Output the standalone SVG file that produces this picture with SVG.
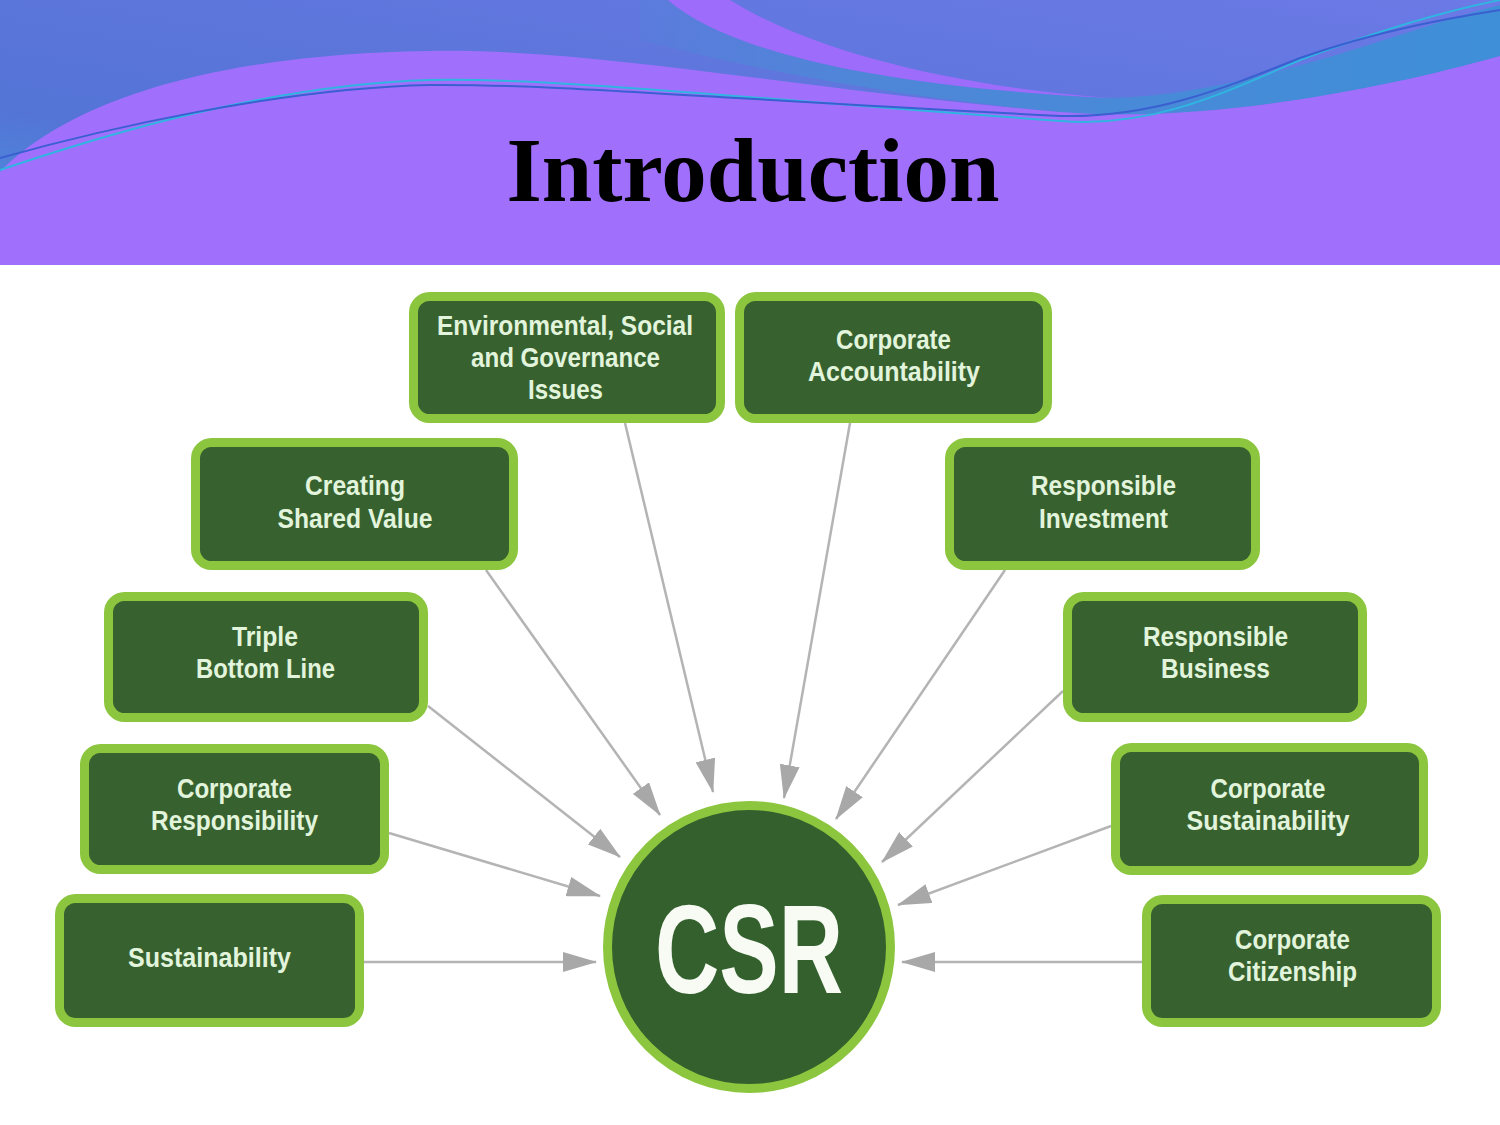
<svg xmlns="http://www.w3.org/2000/svg" width="1500" height="1125" viewBox="0 0 1500 1125">
<style>
.box{fill:#37622f;stroke:#8cc63f;stroke-width:9}
.t{font-family:"Liberation Sans Narrow","Liberation Sans",Arial,sans-serif;font-weight:bold;font-size:27px;fill:#e2f4dc;text-anchor:middle}
.ln{stroke:#b4b4b4;stroke-width:2.5;fill:none;marker-end:url(#ah)}
</style>
<defs>
<linearGradient id="sky" x1="0" y1="1" x2="1" y2="0">
<stop offset="0" stop-color="#4697dd"/>
<stop offset="0.3" stop-color="#5474d6"/>
<stop offset="1" stop-color="#6c79e6"/>
</linearGradient>
<linearGradient id="band" x1="0" y1="0" x2="1" y2="0">
<stop offset="0" stop-color="#4f86d8" stop-opacity="0.3"/>
<stop offset="0.25" stop-color="#4f86d8"/>
<stop offset="1" stop-color="#3f8fd8"/>
</linearGradient>
<marker id="ah" markerUnits="userSpaceOnUse" viewBox="0 0 34 20" markerWidth="34" markerHeight="20" refX="33" refY="10" orient="auto">
<path d="M0,0 L34,10 L0,20 Z" fill="#a8a8a8"/>
</marker>
</defs>
<rect x="0" y="0" width="1500" height="1125" fill="#ffffff"/>
<g id="header">
<rect x="0" y="0" width="1500" height="265" fill="url(#sky)"/>
<path d="M640,0 L668,0 C720,45 850,85 1110,98 C1250,95 1400,30 1500,5 L1500,56 C1380,90 1200,124 1060,112 C850,92 720,60 640,40 Z" fill="url(#band)"/>
<path d="M668,0 C720,45 850,85 1110,98 C950,86 810,50 730,0 Z" fill="#9d6cfb"/>
<path d="M0,172 C40,130 150,55 430,51 C600,48 800,90 1060,112 C1200,124 1380,90 1500,56 L1500,265 L0,265 Z" fill="#a070fd"/>
<path d="M0,170 C60,150 250,85 430,80 C560,78 700,95 1061,121 C1150,128 1220,95 1300,60 C1380,30 1450,10 1500,0" fill="none" stroke="#2fb5e0" stroke-width="2"/>
<path d="M0,158 C100,130 280,88 430,85 C560,84 700,98 1061,116 C1150,118 1220,90 1300,58 C1380,30 1450,18 1500,10" fill="none" stroke="#3a5fd0" stroke-width="2"/>
<text x="753" y="201" font-family="'Liberation Serif','Times New Roman',serif" font-weight="bold" font-size="92" text-anchor="middle" textLength="493" lengthAdjust="spacingAndGlyphs" fill="#000000">Introduction</text>
</g>
<g id="connectors">
<line class="ln" x1="625" y1="423" x2="713" y2="792"/>
<line class="ln" x1="850" y1="423" x2="784" y2="798"/>
<line class="ln" x1="486" y1="570" x2="660" y2="815"/>
<line class="ln" x1="1005" y1="570" x2="836" y2="819"/>
<line class="ln" x1="428" y1="706" x2="620" y2="857"/>
<line class="ln" x1="1063" y1="691" x2="882" y2="862"/>
<line class="ln" x1="389" y1="833" x2="600" y2="896"/>
<line class="ln" x1="1111" y1="826" x2="898" y2="905"/>
<line class="ln" x1="364" y1="962" x2="596" y2="962"/>
<line class="ln" x1="1142" y1="962" x2="902" y2="962"/>
</g>
<g id="esg">
<rect class="box" x="413.5" y="296.5" width="307" height="122" rx="16"/>
<text class="t" x="565" y="335" textLength="256" lengthAdjust="spacingAndGlyphs">Environmental, Social</text>
<text class="t" x="565.5" y="367" textLength="189" lengthAdjust="spacingAndGlyphs">and Governance</text>
<text class="t" x="565.5" y="399" textLength="75" lengthAdjust="spacingAndGlyphs">Issues</text>
</g>
<g id="corporate-accountability">
<rect class="box" x="739.5" y="296.5" width="308" height="122" rx="16"/>
<text class="t" x="893.5" y="349" textLength="115" lengthAdjust="spacingAndGlyphs">Corporate</text>
<text class="t" x="894" y="381" textLength="172" lengthAdjust="spacingAndGlyphs">Accountability</text>
</g>
<g id="creating-shared-value">
<rect class="box" x="195.5" y="442.5" width="318" height="123" rx="16"/>
<text class="t" x="355" y="495" textLength="100" lengthAdjust="spacingAndGlyphs">Creating</text>
<text class="t" x="355" y="528" textLength="155" lengthAdjust="spacingAndGlyphs">Shared Value</text>
</g>
<g id="responsible-investment">
<rect class="box" x="949.5" y="442.5" width="306" height="123" rx="16"/>
<text class="t" x="1103.5" y="495" textLength="145" lengthAdjust="spacingAndGlyphs">Responsible</text>
<text class="t" x="1103.5" y="528" textLength="129" lengthAdjust="spacingAndGlyphs">Investment</text>
</g>
<g id="triple-bottom-line">
<rect class="box" x="108.5" y="596.5" width="315" height="121" rx="16"/>
<text class="t" x="265" y="646" textLength="66" lengthAdjust="spacingAndGlyphs">Triple</text>
<text class="t" x="265.5" y="678" textLength="139" lengthAdjust="spacingAndGlyphs">Bottom Line</text>
</g>
<g id="responsible-business">
<rect class="box" x="1067.5" y="596.5" width="295" height="121" rx="16"/>
<text class="t" x="1215.5" y="646" textLength="145" lengthAdjust="spacingAndGlyphs">Responsible</text>
<text class="t" x="1215.5" y="678" textLength="109" lengthAdjust="spacingAndGlyphs">Business</text>
</g>
<g id="corporate-responsibility">
<rect class="box" x="84.5" y="748.5" width="300" height="121" rx="16"/>
<text class="t" x="234.5" y="798" textLength="115" lengthAdjust="spacingAndGlyphs">Corporate</text>
<text class="t" x="234.5" y="830" textLength="167" lengthAdjust="spacingAndGlyphs">Responsibility</text>
</g>
<g id="corporate-sustainability">
<rect class="box" x="1115.5" y="747.5" width="308" height="123" rx="16"/>
<text class="t" x="1268" y="798" textLength="115" lengthAdjust="spacingAndGlyphs">Corporate</text>
<text class="t" x="1268" y="830" textLength="163" lengthAdjust="spacingAndGlyphs">Sustainability</text>
</g>
<g id="sustainability">
<rect class="box" x="59.5" y="898.5" width="300" height="124" rx="16"/>
<text class="t" x="209.5" y="967" textLength="163" lengthAdjust="spacingAndGlyphs">Sustainability</text>
</g>
<g id="corporate-citizenship">
<rect class="box" x="1146.5" y="899.5" width="290" height="123" rx="16"/>
<text class="t" x="1292.5" y="949" textLength="115" lengthAdjust="spacingAndGlyphs">Corporate</text>
<text class="t" x="1292.5" y="981" textLength="129" lengthAdjust="spacingAndGlyphs">Citizenship</text>
</g>
<g id="csr">
<circle cx="749" cy="947" r="141.5" fill="#33602d" stroke="#8cc63f" stroke-width="9"/>
<text x="749" y="993" font-family="'Liberation Sans Narrow','Liberation Sans',Arial,sans-serif" font-weight="bold" font-size="126" text-anchor="middle" textLength="188" lengthAdjust="spacingAndGlyphs" fill="#f7fbf3">CSR</text>
</g>
</svg>
